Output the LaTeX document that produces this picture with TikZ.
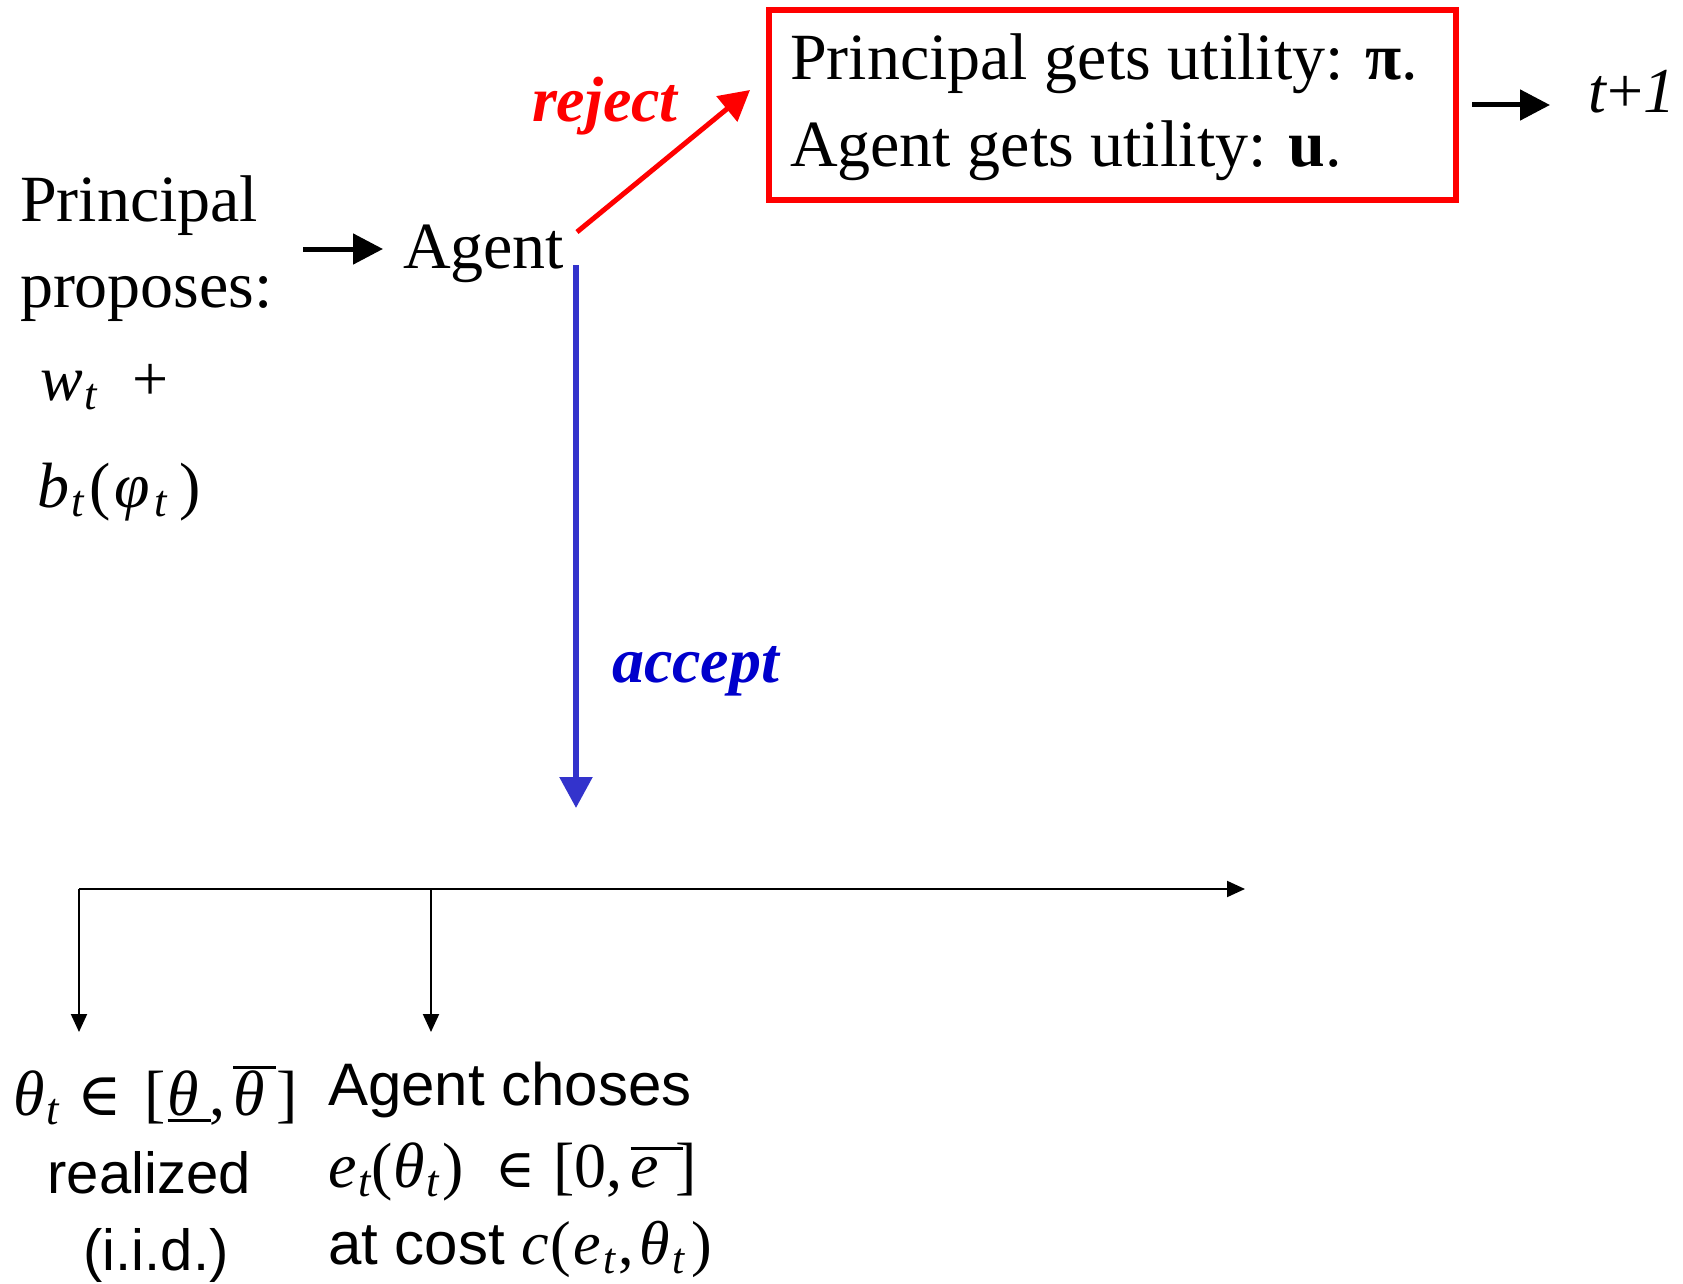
\RequirePackage{fix-cm}
\documentclass[tikz,border=0pt]{standalone}
\usepackage{fontspec}
\setmainfont{Liberation Serif}
\setsansfont{Liberation Sans}
\newfontfamily\dejaserif{DejaVu Serif}
\usetikzlibrary{arrows.meta}

\definecolor{rejred}{RGB}{255,0,0}
\definecolor{accline}{RGB}{51,51,204}
\definecolor{acctext}{RGB}{0,0,204}

\newcommand\tsb[1]{\hspace{1pt}\textsubscript{\itshape #1}}
\newcommand\elem[1]{{\dejaserif\fontsize{#1}{#1}\selectfont ∈}}
% rule helpers: width, raise
\newcommand\barrule[2]{\rlap{\raisebox{#2}{\rule{#1}{1.6pt}}}}

\begin{document}
\begin{tikzpicture}[x=0.5pt,y=-0.5pt,
  txt/.style={inner sep=0pt, outer sep=0pt, anchor=base west},
  ctxt/.style={inner sep=0pt, outer sep=0pt, anchor=base},
  serifbig/.style={font=\fontsize{33pt}{40pt}\selectfont},
  serifmath/.style={font=\fontsize{32pt}{38pt}\selectfont},
  labelfont/.style={font=\fontsize{32pt}{38pt}\selectfont\bfseries\itshape},
  sansL/.style={font=\sffamily\fontsize{29pt}{35pt}\selectfont},
  sansR/.style={font=\sffamily\fontsize{30pt}{36pt}\selectfont},
  blkarrow/.style={line width=2.5pt, -{Triangle[length=15pt,width=15pt]}},
  redarrow/.style={draw=rejred, line width=2.5pt, -{Triangle[length=15pt,width=16pt]}},
  bluearrow/.style={draw=accline, line width=2.75pt, -{Triangle[length=15.5pt,width=16pt]}},
  thinarrow/.style={line width=1pt, -{Triangle[length=9pt,width=8pt]}},
  redbox/.style={draw=rejred, line width=3pt, inner sep=0pt, outer sep=0pt}
]
\useasboundingbox (0,0) rectangle (1683,1284);

% left block
\node[txt,serifbig] (princ1) at (20,221) {Principal};
\node[txt,serifbig] (princ2) at (20,307) {proposes:};
\node[txt,serifmath] (wt) at (40,400) {\textit{w}\tsb{t}\hspace{17pt}+};
\node[txt,serifmath] (bt) at (38,507) {\textit{b}\tsb{t}\hspace{2pt}(\hspace{2pt}\textit{φ}\hspace{1pt}\tsb{t}\hspace{6pt})};

% agent
\node[txt,serifbig] (agent) at (403,268) {Agent};

% outcome box
\node[redbox, minimum width=343.5pt, minimum height=95pt] (box) at (1112,105) {};
\node[txt,serifbig] (bl1) at (790,80) {Principal gets utility: \textbf{π}.};
\node[txt,serifbig] (bl2) at (790,167) {Agent gets utility: \textbf{u}.};
\node[txt,serifmath] (tnext) at (1588,113) {\textit{t}+\textit{1}};

% labels
\node[txt,labelfont,text=rejred] (rej) at (532,122) {reject};
\node[txt,labelfont,text=acctext] (acc) at (612,682) {accept};

% connectors top
\coordinate (pa0) at (303,249);
\draw[blkarrow, shorten >=10pt] (pa0) -- (agent.west |- pa0);
\coordinate (rj0) at (577,232);
\coordinate (rj1) at (750,90);
\draw[redarrow] (rj0) -- (rj1);
\coordinate (ac0) at (576,265);
\coordinate (ac1) at (576,808);
\draw[bluearrow] (ac0) -- (ac1);
\draw[blkarrow, shorten <=8.25pt, shorten >=19pt] (box.east) -- (tnext.west |- box.east);

% timeline
\coordinate (tl0) at (79,889);
\coordinate (tl1) at (1245,889);
\coordinate (tl2) at (431,889);
\coordinate (dn0) at (79,1032);
\coordinate (dn1) at (431,1032);
\draw[thinarrow] (tl0) -- (tl1);
\draw[thinarrow] (tl0) -- (dn0);
\draw[thinarrow] (tl2) -- (dn1);

% bottom left
\node[txt,serifmath] (th) at (13,1115) {\textit{θ}\tsb{t}\hspace{9pt}\elem{30pt}\hspace{11pt}[\hspace{1pt}\barrule{21.5pt}{-3.5pt}\textit{θ}\hspace{5pt},\hspace{4pt}\barrule{21.5pt}{23pt}\textit{θ}\hspace{6pt}]};
\node[ctxt,sansL] (real) at (149,1193) {realized};
\node[ctxt,sansL] (iid) at (156,1270) {(i.i.d.)};

% bottom right
\node[txt,sansR] (ch) at (328,1105) {Agent choses};
\node[txt,serifmath] (er) at (328,1187) {\textit{e}\tsb{t}(\textit{θ}\tsb{t}\hspace{1pt})\hspace{16pt}\elem{27pt}\hspace{9pt}[0,\hspace{4pt}\barrule{26pt}{18.5pt}\textit{e}\hspace{8pt}]};
\node[txt,sansR] (ac) at (328,1264) {at cost {\rmfamily\fontsize{31pt}{36pt}\selectfont\textit{c}\hspace{1pt}(\hspace{1pt}\textit{e}\tsb{t}\hspace{1pt},\hspace{3pt}\textit{θ}\tsb{t}\hspace{3pt})}};
\end{tikzpicture}
\end{document}
